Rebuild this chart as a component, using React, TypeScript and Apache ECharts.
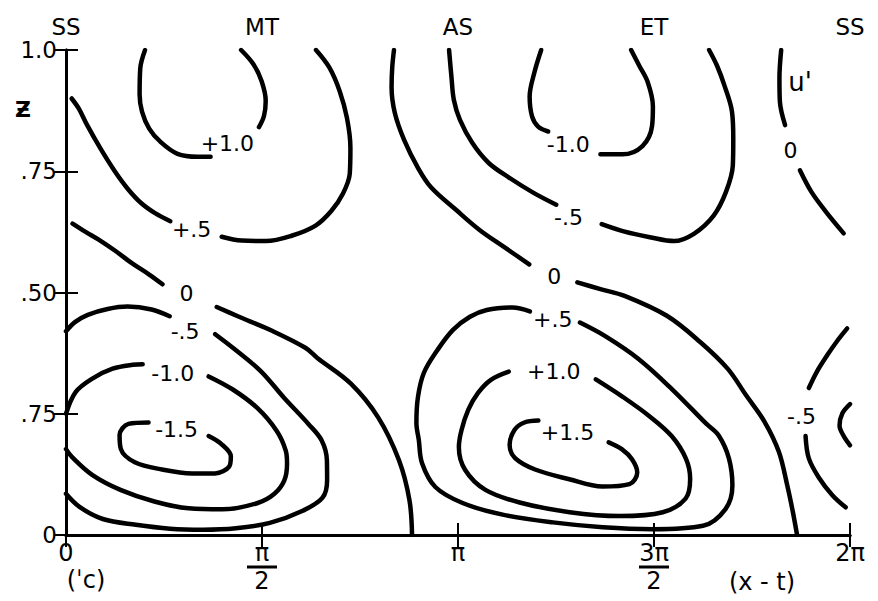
import React, { useEffect, useRef } from 'react';
import * as echarts from 'echarts';

// Phase (x - t) in degrees, 0..360 ; height z, 0..1
const xTicks = [0, 90, 180, 270, 360];
const xTickNumerators = ['0', 'π', 'π', '3π', '2π'];
const xTickDenominators = ['', '2', '', '2', ''];
const topTickLabels = ['SS', 'MT', 'AS', 'ET', 'SS'];
const zTickLabels = ['0', '.75', '.50', '.75', '1.0'];

// u' isolines, each split where its value label sits
const posOneTopLeft = [[36.3, 1.0], [34.1, 0.962], [33.8, 0.908], [34.9, 0.873], [38.2, 0.838], [43.3, 0.811], [51.2, 0.786], [60.4, 0.78], [66.4, 0.78]];
const posOneTopRight = [[80.4, 1.0], [86.0, 0.971], [89.8, 0.936], [91.7, 0.895], [90.9, 0.864], [88.6, 0.841]];

const posHalfTopRight = [[114.8, 1.0], [120.9, 0.964], [125.6, 0.916], [129.0, 0.86], [130.6, 0.799], [130.3, 0.745], [127.2, 0.704], [121.8, 0.668], [114.6, 0.638], [103.6, 0.617], [91.8, 0.606], [80.7, 0.607], [71.5, 0.615]];
const posHalfTopLeft = [[47.9, 0.647], [41.1, 0.663], [34.6, 0.684], [28.5, 0.713], [22.4, 0.75], [15.8, 0.797], [9.6, 0.846], [5.9, 0.879], [2.6, 0.9]];

const zeroLeftUpper = [[3.0, 0.642], [9.0, 0.625], [15.0, 0.609], [22.9, 0.585], [30.4, 0.56], [38.2, 0.537], [44.3, 0.517]];
const zeroLeftLower = [[69.2, 0.47], [78.9, 0.451], [94.6, 0.421], [109.9, 0.386], [115.4, 0.365], [130.8, 0.312], [143.4, 0.242], [152.9, 0.154], [157.7, 0.072], [158.9, 0]];

const negHalfLowUpper = [[0, 0.42], [4.1, 0.439], [10.0, 0.454], [19.1, 0.466], [28.3, 0.471], [39.3, 0.465], [47.6, 0.451]];
const negHalfLowLoop = [[68.5, 0.414], [76.9, 0.385], [89.4, 0.338], [100.1, 0.283], [111.3, 0.229], [117.4, 0.195], [119.8, 0.154], [119.9, 0.113], [117.8, 0.077], [108.7, 0.05], [93.6, 0.025], [78.0, 0.014], [62.9, 0.011], [47.8, 0.013], [32.1, 0.021], [16.9, 0.033], [6.2, 0.058], [0, 0.085]];

const negOneLowUpper = [[0, 0.25], [4.5, 0.295], [12.3, 0.323], [21.4, 0.343], [30.6, 0.351], [35.2, 0.352]];
const negOneLowLoop = [[65.5, 0.327], [76.6, 0.3], [87.8, 0.262], [96.7, 0.215], [100.9, 0.174], [101.5, 0.147], [100.2, 0.112], [95.7, 0.085], [88.0, 0.066], [71.9, 0.053], [56.3, 0.055], [40.6, 0.069], [25.0, 0.093], [12.0, 0.124], [2.7, 0.161], [0, 0.177]];

const negOneHalfLow = [[37.9, 0.232], [28.7, 0.229], [24.6, 0.206], [25.2, 0.177], [31.6, 0.15], [44.1, 0.135], [57.9, 0.127], [68.4, 0.127], [74.9, 0.141], [75.7, 0.162], [71.5, 0.187], [65.5, 0.204]];

const negOneTopLeft = [[218.2, 1.0], [215.1, 0.954], [212.9, 0.904], [214.0, 0.863], [216.8, 0.842], [221.4, 0.832]];
const negOneTopRight = [[245.4, 0.785], [255.6, 0.785], [264.7, 0.802], [269.1, 0.843], [269.5, 0.884], [267.1, 0.934], [263.3, 0.967], [259.5, 1.0]];

const negHalfTopLeft = [[175.9, 1.0], [177.0, 0.944], [178.1, 0.897], [180.9, 0.856], [186.6, 0.808], [194.1, 0.767], [203.4, 0.737], [214.5, 0.706], [225.1, 0.681]];
const negHalfTopRight = [[246.0, 0.641], [256.1, 0.626], [268.1, 0.614], [279.2, 0.606], [288.3, 0.621], [297.3, 0.658], [303.1, 0.708], [306.2, 0.762], [306.4, 0.817], [305.8, 0.873], [302.4, 0.926], [299.0, 0.967], [295.3, 1.0]];

const zeroTopRightUpper = [[328.4, 1.0], [327.6, 0.942], [327.8, 0.894], [330.2, 0.845]];
const zeroTopRightLower = [[337.0, 0.752], [342.2, 0.708], [348.7, 0.668], [357.1, 0.622]];

const zeroMidUpper = [[150.6, 1.0], [149.8, 0.964], [149.5, 0.923], [151.0, 0.87], [155.3, 0.814], [161.5, 0.758], [167.6, 0.717], [179.2, 0.67], [189.9, 0.629], [201.1, 0.594], [212.7, 0.558]];
const zeroMidLower = [[234.8, 0.521], [245.4, 0.507], [256.5, 0.493], [275.9, 0.452], [291.2, 0.398], [303.8, 0.343], [312.3, 0.288], [320.7, 0.234], [327.3, 0.172], [331.2, 0.102], [333.7, 0.049], [335.7, 0]];

const posHalfLow = [[213.0, 0.461], [205.1, 0.469], [193.2, 0.464], [185.5, 0.45], [177.7, 0.423], [170.5, 0.381], [164.3, 0.334], [161.6, 0.284], [160.9, 0.231], [162.0, 0.196], [163.5, 0.148], [169.6, 0.099], [182.1, 0.066], [200.5, 0.042], [223.6, 0.026], [246.5, 0.016], [269.5, 0.012], [292.5, 0.019], [302.9, 0.054], [306.0, 0.102], [304.4, 0.158], [299.7, 0.205], [294.1, 0.229], [278.2, 0.301], [262.9, 0.363], [247.6, 0.41], [236.0, 0.438]];

const posOneLow = [[203.3, 0.337], [195.1, 0.32], [189.2, 0.293], [184.7, 0.258], [181.6, 0.216], [180.4, 0.181], [183.3, 0.134], [192.6, 0.093], [208.3, 0.067], [231.3, 0.047], [254.3, 0.039], [274.0, 0.047], [284.5, 0.075], [286.6, 0.116], [284.7, 0.157], [278.1, 0.204], [267.9, 0.245], [255.3, 0.286], [243.3, 0.321]];

const posOneHalfLow = [[216.9, 0.236], [210.5, 0.232], [206.0, 0.217], [203.7, 0.186], [206.1, 0.159], [215.4, 0.135], [231.1, 0.115], [246.3, 0.1], [258.7, 0.105], [262.3, 0.129], [259.9, 0.156], [255.2, 0.177], [249.2, 0.191]];

const negHalfRightUpper = [[358.7, 0.426], [354.1, 0.4], [349.6, 0.371], [344.7, 0.336], [341.1, 0.303]];
const negHalfRightLower = [[339.6, 0.204], [341.1, 0.158], [345.9, 0.117], [351.9, 0.082], [358.0, 0.057]];

const negOneRight = [[360, 0.27], [356.5, 0.251], [355.2, 0.226], [357.1, 0.204], [360, 0.185]];

const isolines = [
  posOneTopLeft, posOneTopRight, posHalfTopRight, posHalfTopLeft,
  zeroLeftUpper, zeroLeftLower, negHalfLowUpper, negHalfLowLoop,
  negOneLowUpper, negOneLowLoop, negOneHalfLow,
  negOneTopLeft, negOneTopRight, negHalfTopLeft, negHalfTopRight,
  zeroTopRightUpper, zeroTopRightLower, zeroMidUpper, zeroMidLower,
  posHalfLow, posOneLow, posOneHalfLow,
  negHalfRightUpper, negHalfRightLower, negOneRight,
];

// Isoline value labels: [phase, z, text]
const labelPhase = [74.1, 57.7, 55.3, 54.7, 49.0, 50.8, 230.6, 230.7, 224.2, 223.5, 224.0, 230.3, 332.7, 337.7];
const labelZ = [0.808, 0.63, 0.498, 0.42, 0.333, 0.218, 0.805, 0.655, 0.533, 0.444, 0.337, 0.212, 0.793, 0.245];
const labelText = ['+1.0', '+.5', '0', '-.5', '-1.0', '-1.5', '-1.0', '-.5', '0', '+.5', '+1.0', '+1.5', '0', '-.5'];

const FONT = '"DejaVu Sans", "Liberation Sans", sans-serif';
const INK = '#000';

export default function App() {
  const ref = useRef<HTMLDivElement>(null);

  useEffect(() => {
    if (!ref.current) return;
    const chart = echarts.init(ref.current, undefined, { renderer: 'svg' });

    const lineSeries = isolines.map((data) => ({
      type: 'line',
      data,
      xAxisIndex: 0,
      yAxisIndex: 0,
      showSymbol: false,
      symbol: 'none',
      smooth: 0.35,
      silent: true,
      z: 3,
      lineStyle: { color: INK, width: 4.5, cap: 'round', join: 'round' },
    }));

    const labelSeries = {
      type: 'scatter',
      xAxisIndex: 0,
      yAxisIndex: 0,
      symbolSize: 0,
      silent: true,
      z: 4,
      itemStyle: { color: 'transparent', opacity: 1 },
      label: {
        show: true,
        position: 'inside',
        formatter: '{b}',
        color: INK,
        opacity: 1,
        fontSize: 22,
        fontFamily: FONT,
        textBorderWidth: 0,
        textBorderColor: 'transparent',
      },
      data: labelText.map((t, i) => ({ name: t, value: [labelPhase[i], labelZ[i]] })),
    };

    const axisLine = { show: true, lineStyle: { color: INK, width: 3 } };
    const axisTick = { show: true, inside: true, length: 12, lineStyle: { color: INK, width: 2 } };
    const tickIndex = (v: number) => xTicks.indexOf(Math.round(v));

    chart.setOption({
      animation: false,
      backgroundColor: '#fff',
      grid: { left: 66, right: 28, top: 50, bottom: 66 },
      xAxis: [
        {
          type: 'value',
          position: 'bottom',
          min: 0,
          max: 360,
          interval: 90,
          axisLine,
          axisTick,
          splitLine: { show: false },
          axisLabel: {
            margin: 4,
            color: INK,
            fontFamily: FONT,
            formatter: (v: number) => {
              const i = tickIndex(v);
              if (i < 0) return '';
              const n = xTickNumerators[i];
              const d = xTickDenominators[i];
              return d ? `{n|${n}}\n{n|${d}}` : `{n|${n}}`;
            },
            rich: { n: { fontSize: 24, lineHeight: 28, fontFamily: FONT, color: INK } },
          },
        },
        {
          type: 'value',
          position: 'top',
          min: 0,
          max: 360,
          interval: 90,
          axisLine,
          axisTick,
          splitLine: { show: false },
          axisLabel: {
            margin: 12,
            color: INK,
            fontSize: 23,
            fontFamily: FONT,
            formatter: (v: number) => {
              const i = tickIndex(v);
              return i < 0 ? '' : topTickLabels[i];
            },
          },
        },
      ],
      yAxis: [
        {
          type: 'value',
          position: 'left',
          min: 0,
          max: 1,
          interval: 0.25,
          axisLine,
          axisTick,
          splitLine: { show: false },
          axisLabel: {
            margin: 9,
            color: INK,
            fontSize: 23,
            fontFamily: FONT,
            formatter: (v: number) => zTickLabels[Math.round(v * 4)] ?? '',
          },
        },
        {
          type: 'value',
          position: 'right',
          min: 0,
          max: 1,
          interval: 0.25,
          axisLine,
          axisTick,
          splitLine: { show: false },
          axisLabel: { show: false },
        },
      ],
      series: [...lineSeries, labelSeries],
    });

    // Fraction bars under π and 3π, plus free annotations
    const barY = (chart.convertToPixel({ yAxisIndex: 0 }, 0) as number) + 4 + 28;
    const bars = xTicks
      .filter((_, i) => xTickDenominators[i] !== '')
      .map((v) => {
        const x = chart.convertToPixel({ xAxisIndex: 0 }, v) as number;
        return {
          type: 'line',
          shape: { x1: x - 15, y1: barY, x2: x + 15, y2: barY },
          style: { stroke: INK, lineWidth: 3 },
        };
      });

    const text = (t: string, x: number, y: number, size: number, weight = 'normal') => ({
      type: 'text',
      x,
      y,
      style: {
        text: t,
        fill: INK,
        fontSize: size,
        fontFamily: FONT,
        fontWeight: weight,
        align: 'center',
        verticalAlign: 'middle',
      },
    });

    chart.setOption({
      graphic: [
        ...bars,
        text('Ƶ', 23, 109, 22, 'bold'),
        text("u'", 800, 82, 26),
        text('(x - t)', 762, 582, 24),
        text('(ˈc)', 86, 580, 24),
      ],
    });

    return () => chart.dispose();
  }, []);

  return (
    <div
      ref={ref}
      style={{ position: 'fixed', left: 0, top: 0, width: 878, height: 601, background: '#fff' }}
    />
  );
}
